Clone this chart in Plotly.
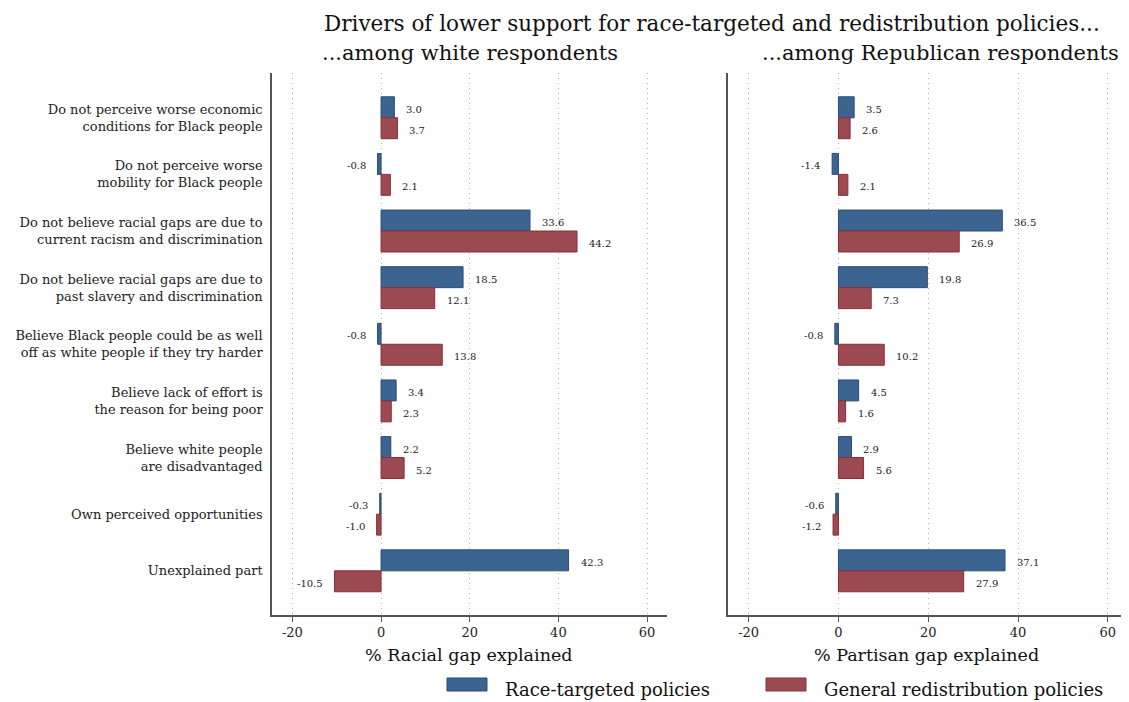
import plotly.graph_objects as go

W, H = 1129, 702
OFF = 8  # page body margin in the browser
FW, FH = W - OFF, H - OFF


def px(x):
    return (x - OFF) / FW


def py(y):
    return 1 - (y - OFF) / FH


categories = [
    "Do not perceive worse economic<br>conditions for Black people",
    "Do not perceive worse<br>mobility for Black people",
    "Do not believe racial gaps are due to<br>current racism and discrimination",
    "Do not believe racial gaps are due to<br>past slavery and discrimination",
    "Believe Black people could be as well<br>off as white people if they try harder",
    "Believe lack of effort is<br>the reason for being poor",
    "Believe white people<br>are disadvantaged",
    "Own perceived opportunities",
    "Unexplained part",
]

series_names = ["Race-targeted policies", "General redistribution policies"]

white_race = [3.0, -0.8, 33.6, 18.5, -0.8, 3.4, 2.2, -0.3, 42.3]
white_redis = [3.7, 2.1, 44.2, 12.1, 13.8, 2.3, 5.2, -1.0, -10.5]
rep_race = [3.5, -1.4, 36.5, 19.8, -0.8, 4.5, 2.9, -0.6, 37.1]
rep_redis = [2.6, 2.1, 26.9, 7.3, 10.2, 1.6, 5.6, -1.2, 27.9]

x_ticks = [-20, 0, 20, 40, 60]

title_text = "Drivers of lower support for race-targeted and redistribution policies..."
panel_titles = ["...among white respondents", "...among Republican respondents"]
axis_titles = ["% Racial gap explained", "% Partisan gap explained"]

FONT = "DejaVu Serif"
BLUE = "#3b6590"
BLUE_EDGE = "#2a4c77"
RED = "#9c4a52"
RED_EDGE = "#8c2c38"
AXIS_COL = "#555555"
GRID_COL = "#b0b0b0"

pos = list(range(len(categories)))
half = 0.37 / 2

fig = go.Figure()

panels = [
    ("x", "y", white_race, white_redis),
    ("x2", "y2", rep_race, rep_redis),
]

annotations = []
for xa, ya, race, redis in panels:
    for vals, col, edge, name, off in [
        (race, BLUE, BLUE_EDGE, series_names[0], -half),
        (redis, RED, RED_EDGE, series_names[1], half),
    ]:
        fig.add_trace(go.Bar(
            x=vals, y=pos, orientation="h", name=name,
            marker=dict(color=col, line=dict(color=edge, width=1)),
            xaxis=xa, yaxis=ya, showlegend=False,
        ))
        for i, v in enumerate(vals):
            annotations.append(dict(
                x=v, y=i + off, xref=xa, yref=ya,
                text=f"{v:.1f}", showarrow=False,
                xanchor="left" if v >= 0 else "right",
                xshift=10 if v >= 0 else -10, yshift=-2,
                font=dict(family=FONT, size=10, color="#222"),
            ))

xdom1 = [px(272), px(667)]
xdom2 = [px(728), min(1.0, px(1128))]
ydom = [py(615), py(73)]

xcommon = dict(
    range=[-24.6, 64.5], tickvals=x_ticks, ticktext=[str(t) for t in x_ticks],
    showgrid=True, gridcolor=GRID_COL, griddash="1px,4px", gridwidth=1,
    zeroline=False, showline=True, linecolor=AXIS_COL, linewidth=1.5,
    ticks="outside", ticklen=5, tickcolor=AXIS_COL,
    tickfont=dict(family=FONT, size=13, color="#222"),
    fixedrange=True, automargin=False,
)
ycommon = dict(
    range=[8.78, -0.79], showgrid=False, zeroline=False,
    showline=True, linecolor=AXIS_COL, linewidth=1.5, ticks="",
    tickvals=pos, fixedrange=True, automargin=False,
)

fig.update_layout(
    width=FW, height=FH,
    margin=dict(l=0, r=0, t=0, b=0, autoexpand=False),
    paper_bgcolor="white", plot_bgcolor="white",
    barmode="group", bargap=0.26, bargroupgap=0,
    xaxis=dict(domain=xdom1, anchor="y", **xcommon),
    xaxis2=dict(domain=xdom2, anchor="y2", **xcommon),
    yaxis=dict(domain=ydom, anchor="x", ticktext=categories,
               tickfont=dict(family=FONT, size=13, color="#222"),
               ticklabelstandoff=5, **ycommon),
    yaxis2=dict(domain=ydom, anchor="x2", showticklabels=False, **ycommon),
    font=dict(family=FONT, color="#222"),
)

# titles
annotations.append(dict(x=px(712), y=py(23), xref="paper", yref="paper",
                        text=title_text, showarrow=False, xanchor="center",
                        yanchor="middle", font=dict(family=FONT, size=21.5, color="#111")))
for cx, t in zip([px(470), px(940)], panel_titles):
    annotations.append(dict(x=cx, y=py(53), xref="paper", yref="paper",
                            text=t, showarrow=False, xanchor="center",
                            yanchor="middle", font=dict(family=FONT, size=21, color="#111")))
for cx, t in zip([px(468), px(926)], axis_titles):
    annotations.append(dict(x=cx, y=py(655), xref="paper", yref="paper",
                            text=t, showarrow=False, xanchor="center",
                            yanchor="middle", font=dict(family=FONT, size=17.5, color="#111")))

# legend (drawn manually to get wide swatches)
shapes = []
for (x0, tx), col, edge, name in [((447, 503), BLUE, BLUE_EDGE, series_names[0]),
                                  ((766, 822), RED, RED_EDGE, series_names[1])]:
    shapes.append(dict(type="rect", xref="paper", yref="paper",
                       x0=px(x0), x1=px(x0 + 40), y0=py(691), y1=py(678),
                       fillcolor=col, line=dict(color=edge, width=1)))
    annotations.append(dict(x=px(tx), y=py(689), xref="paper", yref="paper",
                            text=name, showarrow=False, xanchor="left",
                            yanchor="middle", font=dict(family=FONT, size=18, color="#111")))

fig.update_layout(annotations=annotations, shapes=shapes)

fig.write_html("out.html")
